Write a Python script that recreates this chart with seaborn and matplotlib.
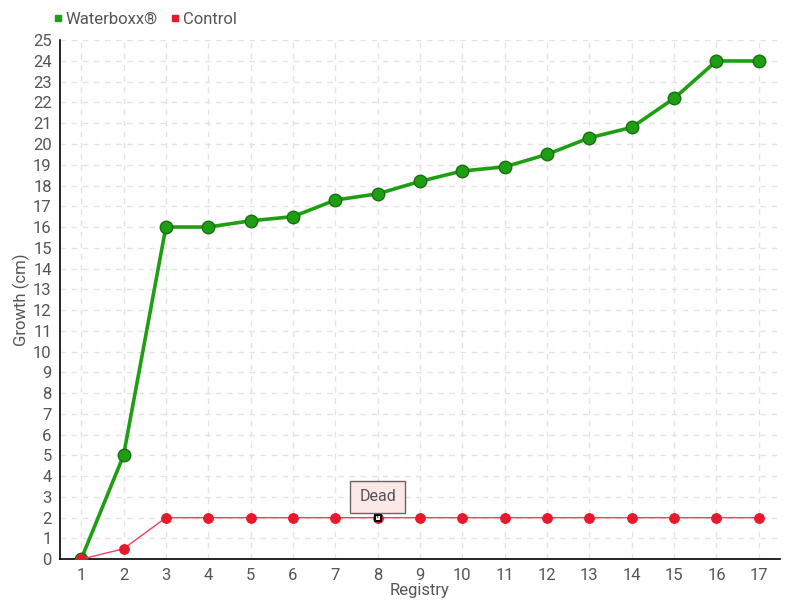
import pandas as pd
import matplotlib
matplotlib.use('Agg')
import matplotlib.pyplot as plt
import seaborn as sns
from matplotlib.lines import Line2D

registry = list(range(1, 18))
waterboxx = [0, 5, 16, 16, 16.3, 16.5, 17.3, 17.6, 18.2, 18.7, 18.9, 19.5, 20.3, 20.8, 22.2, 24, 24]
control = [0, 0.5, 2, 2, 2, 2, 2, 2, 2, 2, 2, 2, 2, 2, 2, 2, 2]
dead_at = 8

sns.set_style('white')
plt.rcParams['font.family'] = ['Roboto', 'DejaVu Sans']
txt = '#555555'

df_w = pd.DataFrame({'Registry': registry, 'Growth': waterboxx})
df_c = pd.DataFrame({'Registry': registry, 'Growth': control})

fig = plt.figure(figsize=(8, 6), dpi=100)
ax = fig.add_axes([0.075, 0.068, 0.9, 0.865])

sns.lineplot(data=df_w, x='Registry', y='Growth', ax=ax, color='#1f9e14', linewidth=2.6,
             marker='o', markersize=9, markeredgecolor='#17700f', markeredgewidth=1, zorder=3)
sns.lineplot(data=df_c, x='Registry', y='Growth', ax=ax, color='#f0415a', linewidth=1,
             marker='o', markersize=7, markerfacecolor='#e8192c', markeredgecolor='#e8192c', zorder=4)

# dead marker
dead_y = control[registry.index(dead_at)]
ax.plot([dead_at], [dead_y], marker='s', markersize=5, markerfacecolor='white',
        markeredgecolor='black', markeredgewidth=1.5, zorder=5)
ax.annotate('Dead', xy=(dead_at, dead_y), xytext=(0, 15), textcoords='offset points',
            ha='center', va='center', fontsize=11.5, color=txt,
            bbox=dict(boxstyle='square,pad=0.55', fc='#fde8e8', ec='#666666', lw=1),
            arrowprops=dict(arrowstyle='-', color='#666666', lw=1), zorder=6)

ax.set_xlim(0.5, 17.5)
ax.set_ylim(0, 25)
ax.set_xticks(registry)
ax.set_yticks(range(0, 26))
ax.grid(True, color='#e3e3e3', linestyle=(0, (4, 4)), linewidth=1)
for s in ['top', 'right']:
    ax.spines[s].set_visible(False)
for s in ['left', 'bottom']:
    ax.spines[s].set_color('black')
    ax.spines[s].set_linewidth(1.2)
ax.tick_params(axis='both', length=5, width=1, color='black', labelsize=12, labelcolor=txt, pad=1)
ax.set_xlabel('Registry', fontsize=12, color=txt, labelpad=0)
ax.set_ylabel('Growth (cm)', fontsize=12, color=txt)
ax.yaxis.set_label_coords(-0.041, 0.5)

handles = [Line2D([], [], marker='s', linestyle='', color='#1f9e14', markersize=5),
           Line2D([], [], marker='s', linestyle='', color='#e8192c', markersize=5)]
fig.legend(handles, ['Waterboxx®', 'Control'], loc='upper left', bbox_to_anchor=(0.045, 1.005),
           ncol=2, frameon=False, fontsize=12, labelcolor=txt, handletextpad=0.1,
           columnspacing=0.6, handlelength=0.8)

fig.savefig('out.png', dpi=100)
